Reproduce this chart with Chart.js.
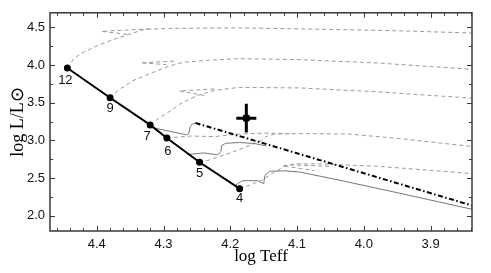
<!DOCTYPE html>
<html>
<head>
<meta charset="utf-8">
<script src="https://cdn.jsdelivr.net/npm/chart.js@4.4.0/dist/chart.umd.min.js"></script>
<style>
  html, body { margin: 0; padding: 0; background: #fff; }
</style>
</head>
<body>
<canvas id="hrChart" width="491" height="273"></canvas>
<script>
// ZAMS points of the model masses (log Teff, log L)
const massLabels = ['12', '9', '7', '6', '5', '4'];
const massLogTeff = [4.444, 4.380, 4.320, 4.295, 4.246, 4.186];
const massLogL = [3.961, 3.566, 3.207, 3.032, 2.711, 2.361];

// dashed tracks
const track12T = [4.444, 4.435, 4.423, 4.401, 4.377, 4.356, 4.347, 4.329, 4.291, 4.186, 4.052, 3.947, 3.838, 3.800];
const track12L = [3.961, 4.078, 4.157, 4.250, 4.335, 4.394, 4.421, 4.473, 4.486, 4.493, 4.473, 4.454, 4.425, 4.410];
const loop12T = [4.321, 4.393, 4.351];
const loop12L = [4.480, 4.447, 4.404];

const track9T = [4.380, 4.369, 4.347, 4.317, 4.296, 4.284, 4.269, 4.231, 4.186, 4.096, 3.977, 3.838, 3.800];
const track9L = [3.566, 3.657, 3.789, 3.898, 3.973, 4.006, 4.039, 4.065, 4.085, 4.072, 4.026, 3.943, 3.920];
const loop9T = [4.284, 4.334, 4.296];
const loop9L = [4.052, 4.030, 4.006];

const track7T = [4.320, 4.306, 4.296, 4.276, 4.251, 4.236, 4.224, 4.186, 4.096, 3.977, 3.838, 3.800];
const track7L = [3.207, 3.302, 3.355, 3.480, 3.592, 3.631, 3.664, 3.704, 3.697, 3.644, 3.561, 3.540];
const loop7T = [4.224, 4.276, 4.236];
const loop7L = [3.684, 3.657, 3.592];

const track6T = [4.295, 4.260, 4.224, 4.186, 4.149, 4.111];
const track6L = [3.032, 3.059, 3.052, 3.085, 3.098, 3.092];

const track5T = [4.246, 4.231, 4.209, 4.186, 4.164, 4.153, 4.147, 4.134, 4.096, 4.022, 3.947, 3.838, 3.800];
const track5L = [2.711, 2.743, 2.809, 2.881, 2.960, 3.000, 3.052, 3.085, 3.092, 3.085, 3.026, 2.921, 2.890];

const track4T = [4.186, 4.171, 4.153, 4.134, 4.119, 4.104, 4.067, 3.977, 3.838, 3.800];
const track4L = [2.361, 2.408, 2.473, 2.579, 2.657, 2.690, 2.690, 2.657, 2.561, 2.540];
const loop4T = [4.052, 4.111, 4.122, 4.096, 4.074];
const loop4L = [2.657, 2.677, 2.664, 2.631, 2.598];

// solid tracks
const solid7T = [4.317, 4.291, 4.266, 4.262, 4.260, 4.257, 4.252];
const solid7L = [3.171, 3.122, 3.075, 3.092, 3.184, 3.219, 3.232];

const solid5T = [4.264, 4.239, 4.219, 4.214, 4.213, 4.207, 4.186, 4.164, 4.146];
const solid5L = [2.815, 2.835, 2.809, 2.855, 2.934, 2.963, 2.973, 2.960, 2.927];

const solid4T = [4.192, 4.182, 4.159, 4.150, 4.148, 4.141, 4.119, 4.096, 4.036, 3.947, 3.838, 3.800];
const solid4L = [2.409, 2.467, 2.467, 2.427, 2.539, 2.592, 2.598, 2.582, 2.473, 2.302, 2.088, 2.040];

// dash-dot line
const edgeT = [4.252, 3.838];
const edgeL = [3.232, 2.138];

// the star
const starLogTeff = 4.176;
const starLogL = 3.296;
const starErrTeff = 0.015;
const starErrL = 0.19;

const xTickValues = [4.4, 4.3, 4.2, 4.1, 4.0, 3.9];
const yTickValues = [2.0, 2.5, 3.0, 3.5, 4.0, 4.5];

function pts(xs, ys) {
    return xs.map((x, i) => ({ x: x, y: ys[i] }));
}

const tickFont = { family: "'Liberation Sans', Arial, sans-serif", size: 13 };

function dashed(xs, ys) {
    return {
        data: pts(xs, ys),
        showLine: true,
        borderColor: '#9a9a9a',
        borderWidth: 1,
        borderDash: [4, 3],
        pointRadius: 0
    };
}

function solid(xs, ys) {
    return {
        data: pts(xs, ys),
        showLine: true,
        borderColor: '#777777',
        borderWidth: 1,
        pointRadius: 0
    };
}

// Frame with inward ticks on all four sides
const framePlugin = {
    id: 'frame',
    afterDatasetsDraw(chart) {
        const { ctx, chartArea: a, scales: { x, y } } = chart;
        ctx.save();
        ctx.strokeStyle = '#3a3a3a';
        ctx.lineWidth = 1;
        ctx.beginPath();
        for (let k = 192; k <= 223; k++) {
            const px = Math.round(x.getPixelForValue(k / 50)) + 0.5;
            const len = k % 5 === 0 ? 5 : 3;
            ctx.moveTo(px, a.bottom); ctx.lineTo(px, a.bottom - len);
            ctx.moveTo(px, a.top); ctx.lineTo(px, a.top + len);
        }
        for (let k = 8; k <= 18; k++) {
            const py = Math.round(y.getPixelForValue(k / 4)) + 0.5;
            const len = k % 2 === 0 ? 5 : 3;
            ctx.moveTo(a.left, py); ctx.lineTo(a.left + len, py);
            ctx.moveTo(a.right, py); ctx.lineTo(a.right - len, py);
        }
        ctx.stroke();
        ctx.lineWidth = 1.5;
        ctx.strokeRect(a.left, a.top, a.right - a.left, a.bottom - a.top);
        ctx.restore();
    }
};

// Mass labels below the ZAMS points
const labelOffsets = [[-2, 12], [0, 11], [-3, 12], [1, 13], [0, 11], [0, 10]];
const massLabelPlugin = {
    id: 'massLabels',
    afterDatasetsDraw(chart) {
        const { ctx, scales: { x, y } } = chart;
        ctx.save();
        ctx.fillStyle = '#111';
        ctx.font = "13px 'Liberation Sans', Arial, sans-serif";
        ctx.textAlign = 'center';
        ctx.textBaseline = 'middle';
        massLabels.forEach((label, i) => {
            const px = x.getPixelForValue(massLogTeff[i]) + labelOffsets[i][0];
            const py = y.getPixelForValue(massLogL[i]) + labelOffsets[i][1];
            ctx.fillText(label, px, py);
        });
        ctx.restore();
    }
};

new Chart(document.getElementById('hrChart'), {
    type: 'scatter',
    data: {
        datasets: [
            {
                data: [{ x: starLogTeff, y: starLogL }],
                pointStyle: 'rect',
                pointRadius: 4,
                backgroundColor: '#000',
                borderColor: '#000'
            },
            {
                data: [{ x: starLogTeff + starErrTeff, y: starLogL }, { x: starLogTeff - starErrTeff, y: starLogL }],
                showLine: true, borderColor: '#000', borderWidth: 3, pointRadius: 0
            },
            {
                data: [{ x: starLogTeff, y: starLogL - starErrL }, { x: starLogTeff, y: starLogL + starErrL }],
                showLine: true, borderColor: '#000', borderWidth: 3, pointRadius: 0
            },
            {
                data: pts(massLogTeff, massLogL),
                showLine: true,
                borderColor: '#000',
                backgroundColor: '#000',
                borderWidth: 2,
                pointRadius: 2.5
            },
            {
                data: pts(edgeT, edgeL),
                showLine: true,
                borderColor: '#000',
                borderWidth: 2,
                borderDash: [5, 2.5, 1.5, 2.5],
                pointRadius: 0
            },
            solid(solid7T, solid7L),
            solid(solid5T, solid5L),
            solid(solid4T, solid4L),
            dashed(track12T, track12L),
            dashed(loop12T, loop12L),
            dashed(track9T, track9L),
            dashed(loop9T, loop9L),
            dashed(track7T, track7L),
            dashed(loop7T, loop7L),
            dashed(track6T, track6L),
            dashed(track5T, track5L),
            dashed(track4T, track4L),
            dashed(loop4T, loop4L)
        ]
    },
    options: {
        responsive: false,
        animation: false,
        layout: { padding: { top: 11, right: 19, left: 0, bottom: 0 } },
        plugins: { legend: { display: false }, tooltip: { enabled: false } },
        scales: {
            x: {
                type: 'linear',
                min: 3.838,
                max: 4.470,
                reverse: true,
                grid: { display: false, drawTicks: false },
                border: { display: false },
                ticks: {
                    font: tickFont,
                    color: '#111',
                    padding: 6,
                    maxRotation: 0,
                    autoSkip: false,
                    callback: v => v.toFixed(1)
                },
                afterBuildTicks: s => { s.ticks = xTickValues.map(v => ({ value: v })); },
                afterFit: s => { s.height = 42; },
                title: {
                    display: true,
                    text: 'log Teff',
                    color: '#000',
                    font: { family: "'Liberation Serif', 'Times New Roman', serif", size: 17 },
                    padding: { top: 0, bottom: 6 }
                }
            },
            y: {
                type: 'linear',
                min: 1.80,
                max: 4.693,
                grid: { display: false, drawTicks: false },
                border: { display: false },
                ticks: {
                    font: tickFont,
                    color: '#111',
                    padding: 5,
                    autoSkip: false,
                    callback: v => v.toFixed(1)
                },
                afterBuildTicks: s => { s.ticks = yTickValues.map(v => ({ value: v })); },
                afterFit: s => { s.width = 50; },
                title: {
                    display: true,
                    text: 'log L/L⊙',
                    color: '#000',
                    font: { family: "'Liberation Serif', 'Times New Roman', serif", size: 18 },
                    padding: { top: 7, bottom: 0 }
                }
            }
        }
    },
    plugins: [framePlugin, massLabelPlugin]
});
</script>
</body>
</html>
